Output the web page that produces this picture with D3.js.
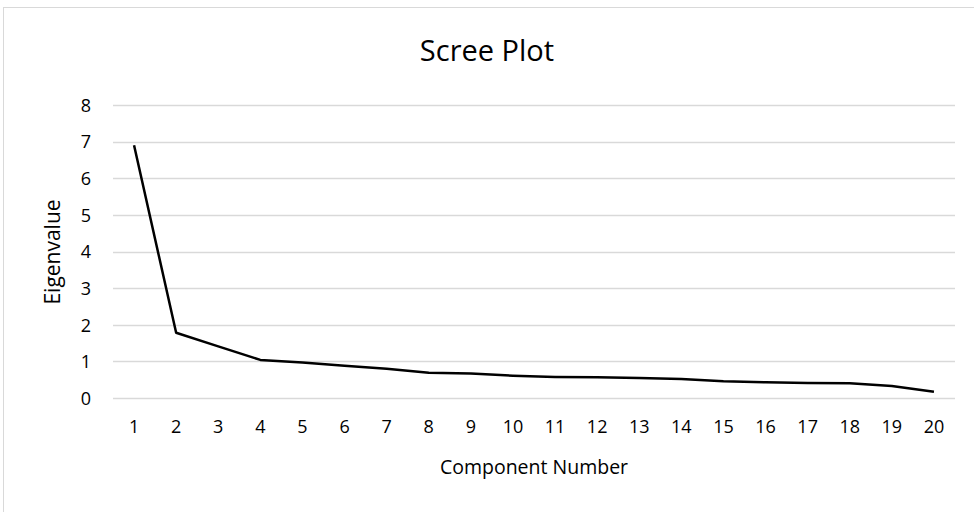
<!DOCTYPE html>
<html>
<head>
<meta charset="utf-8">
<script src="https://cdn.jsdelivr.net/npm/d3@7"></script>
<style>
  html, body { margin: 0; padding: 0; background: #fff; }
  svg { display: block; }
  text { font-family: "Open Sans", "Noto Sans", sans-serif; fill: #000; }
</style>
</head>
<body>
<svg id="chart" width="974" height="512"></svg>
<script>
const components = [1,2,3,4,5,6,7,8,9,10,11,12,13,14,15,16,17,18,19,20];
const eigenvalues = [6.9,1.78,1.41,1.04,0.97,0.88,0.80,0.69,0.67,0.61,0.575,0.565,0.545,0.52,0.46,0.43,0.41,0.40,0.33,0.17];
const yTicks = [0,1,2,3,4,5,6,7,8];

const svg = d3.select("#chart");
const plot = {left: 113, right: 955, top: 105, bottom: 398};

svg.append("rect")
  .attr("x", 3.5).attr("y", 7.5)
  .attr("width", 990).attr("height", 530)
  .attr("fill", "#fff").attr("stroke", "#d9d9d9").attr("stroke-width", 1);

const x = d3.scaleBand().domain(components).range([plot.left, plot.right]);
const y = d3.scaleLinear().domain([0, 8]).range([plot.bottom, plot.top]);

// gridlines
svg.append("g").selectAll("line").data(yTicks).join("line")
  .attr("x1", plot.left).attr("x2", plot.right)
  .attr("y1", d => Math.round(y(d)) + 0.5).attr("y2", d => Math.round(y(d)) + 0.5)
  .attr("stroke", "#d9d9d9").attr("stroke-width", 1.3);

// y axis labels
const yAxis = d3.axisLeft(y).tickValues(yTicks).tickSize(0).tickPadding(0);
const gy = svg.append("g").attr("transform", `translate(${plot.left - 22},0)`).call(yAxis);
gy.select(".domain").remove();
gy.selectAll("text").style("font-size", "18px").attr("dy", "0.35em")
  .style("font-family", '"Open Sans", sans-serif').attr("fill", "#000");

// x axis labels
const xAxis = d3.axisBottom(x).tickSize(0).tickPadding(0);
const gx = svg.append("g").attr("transform", `translate(0,${plot.bottom + 22})`).call(xAxis);
gx.select(".domain").remove();
gx.selectAll("text").style("font-size", "18px").attr("dy", "0.71em")
  .style("font-family", '"Open Sans", sans-serif').attr("fill", "#000");

// line
const line = d3.line()
  .x((d, i) => x(components[i]) + x.bandwidth() / 2)
  .y(d => y(d));
svg.append("path").datum(eigenvalues)
  .attr("d", line)
  .attr("fill", "none").attr("stroke", "#000").attr("stroke-width", 2.5)
  .attr("stroke-linejoin", "round");

// titles
svg.append("text").attr("x", 487).attr("y", 61).attr("text-anchor", "middle")
  .style("font-size", "29px").text("Scree Plot");
svg.append("text").attr("x", 534).attr("y", 474).attr("text-anchor", "middle")
  .style("font-size", "19.5px").text("Component Number");
svg.append("text").attr("transform", "translate(60,252) rotate(-90)").attr("text-anchor", "middle")
  .style("font-size", "21px").text("Eigenvalue");
</script>
</body>
</html>
